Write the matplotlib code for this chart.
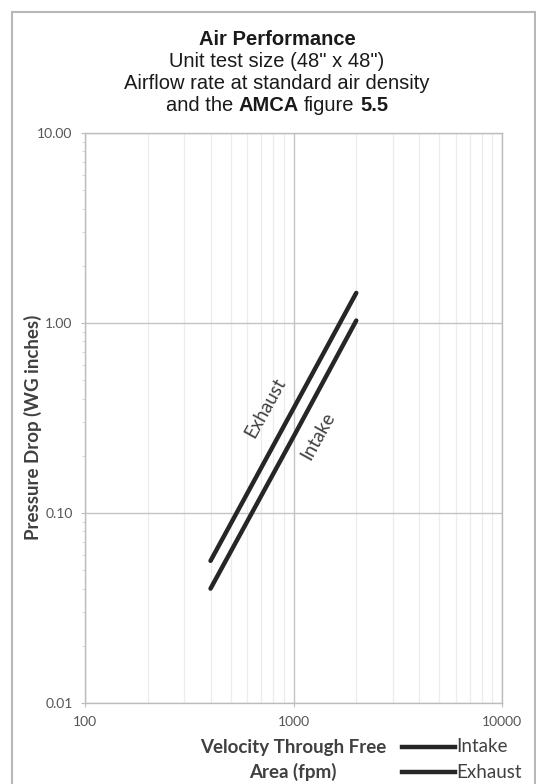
import numpy as np
import matplotlib
matplotlib.use('Agg')
import matplotlib.pyplot as plt
from matplotlib.patches import Rectangle
from matplotlib.ticker import FixedLocator, NullFormatter, LogLocator

# data
velocity = [400, 1000, 2000]
intake = [0.040, 0.252, 1.03]
exhaust = [0.056, 0.355, 1.44]

x_ticks = [100, 1000, 10000]
x_tick_labels = ['100', '1000', '10000']
y_ticks = [0.01, 0.1, 1, 10]
y_tick_labels = ['0.01', '0.10', '1.00', '10.00']

TITLE_FONT = 'Liberation Sans'
BODY_FONT = 'Lato'
LINE_COLOR = '#262626'
TEXT_COLOR = '#404040'
LABEL_SIZE = 13.5

fig = plt.figure(figsize=(5.36, 7.84), dpi=100)
W, H = 536.0, 784.0

# outer frame
fig.patches.append(Rectangle((12 / W, -0.01), (535 - 12) / W, 1 - 12 / H + 0.01,
                             transform=fig.transFigure, fill=False,
                             edgecolor='#b8b8b8', linewidth=1.5))

ax = fig.add_axes([85 / W, 1 - 703 / H, (502 - 85) / W, (703 - 133) / H])
ax.set_xscale('log')
ax.set_yscale('log')
ax.set_xlim(100, 10000)
ax.set_ylim(0.01, 10)

ax.plot(velocity, intake, color=LINE_COLOR, lw=3.2, solid_capstyle='round', zorder=3)
ax.plot(velocity, exhaust, color=LINE_COLOR, lw=3.2, solid_capstyle='round', zorder=3)

ax.xaxis.set_major_locator(FixedLocator(x_ticks))
ax.set_xticklabels(x_tick_labels)
ax.yaxis.set_major_locator(FixedLocator(y_ticks))
ax.set_yticklabels(y_tick_labels)
ax.xaxis.set_minor_locator(LogLocator(base=10, subs=np.arange(2, 10)))
ax.yaxis.set_minor_locator(LogLocator(base=10, subs=np.arange(2, 10)))
ax.xaxis.set_minor_formatter(NullFormatter())
ax.yaxis.set_minor_formatter(NullFormatter())

ax.grid(which='major', color='#c4c4c4', lw=1.0)
ax.grid(which='minor', axis='x', color='#ececec', lw=0.9)
ax.tick_params(axis='both', which='major', length=3, color='#bdbdbd',
               labelsize=10, labelcolor='#555555', pad=6)
ax.tick_params(axis='y', which='minor', length=2, color='#cfcfcf')
ax.tick_params(axis='x', which='minor', length=0)
for lab in ax.get_xticklabels() + ax.get_yticklabels():
    lab.set_fontfamily(BODY_FONT)
for s in ax.spines.values():
    s.set_color('#bdbdbd')
    s.set_linewidth(1.0)

# labels along the lines
ax.text(730, 0.36, 'Exhaust', rotation=61, ha='center', va='center',
        fontsize=LABEL_SIZE, family=BODY_FONT, color=TEXT_COLOR)
ax.text(1310, 0.255, 'Intake', rotation=61, ha='center', va='center',
        fontsize=LABEL_SIZE, family=BODY_FONT, color=TEXT_COLOR)

fig.text(33 / W, 1 - 427 / H, 'Pressure Drop (WG inches)', rotation=90,
         ha='center', va='center', fontsize=LABEL_SIZE, fontweight='bold',
         family=BODY_FONT, color=TEXT_COLOR)

# x label (two lines, left of legend)
fig.text(293 / W, 1 - 747 / H, 'Velocity Through Free', ha='center', va='center',
         fontsize=LABEL_SIZE, fontweight='bold', family=BODY_FONT, color=TEXT_COLOR)
fig.text(293 / W, 1 - 772 / H, 'Area (fpm)', ha='center', va='center',
         fontsize=LABEL_SIZE, fontweight='bold', family=BODY_FONT, color=TEXT_COLOR)

# legend drawn by hand
for name, ypx in [('Intake', 747), ('Exhaust', 772)]:
    yy = 1 - ypx / H
    fig.add_artist(plt.Line2D([402 / W, 455 / W], [yy, yy], transform=fig.transFigure,
                              color=LINE_COLOR, lw=3.2))
    fig.text(456 / W, yy, name, ha='left', va='center', fontsize=LABEL_SIZE,
             family=BODY_FONT, color=TEXT_COLOR)

# title block
cx = 277 / W
TSIZE = 14.5
fig.text(cx, 1 - 45 / H, 'Air Performance', ha='center', va='baseline',
         fontsize=TSIZE, fontweight='bold', family=TITLE_FONT, color='#1a1a1a')
fig.text(cx, 1 - 67 / H, 'Unit test size (48" x 48")', ha='center', va='baseline',
         fontsize=TSIZE, family=TITLE_FONT, color='#1a1a1a')
fig.text(cx, 1 - 89 / H, 'Airflow rate at standard air density', ha='center', va='baseline',
         fontsize=TSIZE, family=TITLE_FONT, color='#1a1a1a')

# last title line mixes regular and bold
parts = [('and the', 'normal'), ('AMCA', 'bold'), ('figure', 'normal'), ('5.5', 'bold')]
renderer = fig.canvas.get_renderer()
space = fig.text(0, 0, 'a a', fontsize=TSIZE, family=TITLE_FONT)
space_w = space.get_window_extent(renderer).width - 2 * fig.text(
    0, 0, 'a', fontsize=TSIZE, family=TITLE_FONT).get_window_extent(renderer).width
for t in fig.texts[-2:]:
    t.remove()
texts = []
total = 0.0
for s, wgt in parts:
    t = fig.text(0, 1 - 111 / H, s, ha='left', va='baseline', fontsize=TSIZE,
                 fontweight=wgt, family=TITLE_FONT, color='#1a1a1a')
    w = t.get_window_extent(renderer).width
    texts.append((t, w))
    total += w
total += space_w * (len(parts) - 1)
xpos = cx * W - total / 2
for t, w in texts:
    t.set_x(xpos / W)
    xpos += w + space_w

fig.savefig('out.png', dpi=100)
